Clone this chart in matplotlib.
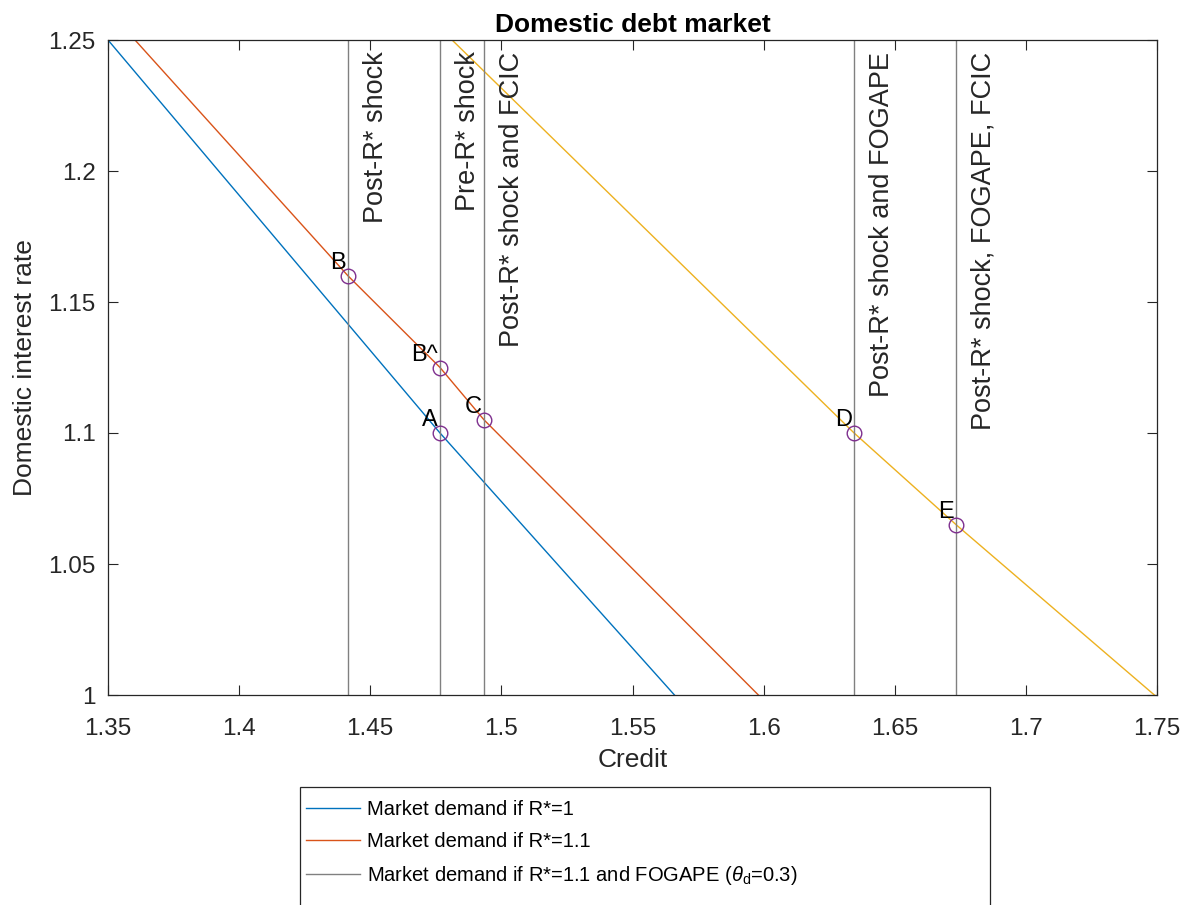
import matplotlib
matplotlib.use("Agg")
import matplotlib.pyplot as plt
from matplotlib.lines import Line2D
from matplotlib.patches import Rectangle

plt.rcParams['font.family'] = ['Liberation Sans', 'DejaVu Sans']
plt.rcParams['mathtext.fontset'] = 'custom'
plt.rcParams['mathtext.rm'] = 'Liberation Sans'
plt.rcParams['mathtext.it'] = 'Liberation Sans:italic'

# ---- data ----
blue_x = [1.35, 1.4766, 1.566]
blue_y = [1.25, 1.10, 1.00]
orange_x = [1.3603, 1.4415, 1.4766, 1.4934, 1.598]
orange_y = [1.25, 1.160, 1.125, 1.105, 1.00]
yellow_x = [1.4812, 1.6345, 1.6734, 1.749]
yellow_y = [1.25, 1.100, 1.065, 1.00]

vline_x = [1.4415, 1.4766, 1.4934, 1.6345, 1.6734]
vline_labels = ["Post-R* shock", "Pre-R* shock", "Post-R* shock and FCIC",
                "Post-R* shock and FOGAPE", "Post-R* shock, FOGAPE, FCIC"]

point_x = [1.4766, 1.4415, 1.4766, 1.4934, 1.6345, 1.6734]
point_y = [1.100, 1.160, 1.125, 1.105, 1.100, 1.065]
point_labels = ["A", "B", "B^", "C", "D", "E"]

legend_labels = ["Market demand if R*=1", "Market demand if R*=1.1",
                 r"Market demand if R*=1.1 and FOGAPE ($\theta_{\rm d}$=0.3)"]

x_ticks = [1.35, 1.4, 1.45, 1.5, 1.55, 1.6, 1.65, 1.7, 1.75]
y_ticks = [1.0, 1.05, 1.1, 1.15, 1.2, 1.25]

# ---- style ----
C_BLUE = '#0072BD'
C_ORANGE = '#D95319'
C_YELLOW = '#EDB120'
C_PURPLE = '#7E2F8E'
C_GRAY = '#808080'
C_AX = '#262626'

W, H = 1187, 905
fig = plt.figure(figsize=(W/100, H/100), dpi=100)
ax = fig.add_axes([108/W, 1-695/H, (1157-108)/W, (695-40)/H])

ax.plot(blue_x, blue_y, color=C_BLUE, lw=1.0)
ax.plot(orange_x, orange_y, color=C_ORANGE, lw=1.0)
ax.plot(yellow_x, yellow_y, color=C_YELLOW, lw=1.0)

for xv, lab in zip(vline_x, vline_labels):
    ax.axvline(xv, color=C_GRAY, lw=1.0)
    ax.annotate(lab, xy=(xv, 1.2456), xytext=(10.5, 0), textcoords='offset points',
                rotation=90, ha='left', va='top', fontsize=19.5, color=C_AX)

ax.plot(point_x, point_y, linestyle='none', marker='o', markersize=10.5,
        markerfacecolor='none', markeredgecolor=C_PURPLE, markeredgewidth=1.0)
for px, py, lab in zip(point_x, point_y, point_labels):
    ax.annotate(lab, xy=(px, py), xytext=(-1.5, 5), textcoords='offset points',
                ha='right', va='baseline', fontsize=17, color='black')

ax.set_xlim(1.35, 1.75)
ax.set_ylim(1.0, 1.25)
ax.set_xticks(x_ticks)
ax.set_xticklabels([f"{v:g}" for v in x_ticks])
ax.set_yticks(y_ticks)
ax.set_yticklabels([f"{v:g}" for v in y_ticks])
ax.tick_params(direction='in', length=7.5, width=0.8, top=True, right=True,
               labelsize=17.5, colors=C_AX)
ax.tick_params(axis='x', pad=16.5)
ax.tick_params(axis='y', pad=9)
for sp in ax.spines.values():
    sp.set_color(C_AX)
    sp.set_linewidth(0.9)

ax.set_xlabel("Credit", fontsize=19, color=C_AX, labelpad=6)
ax.set_ylabel("Domestic interest rate", fontsize=19, color=C_AX, labelpad=8)
ax.set_title("Domestic debt market", fontsize=19, fontweight='bold', color='black', pad=6)

handles = [Line2D([], [], color=C_BLUE, lw=1.0),
           Line2D([], [], color=C_ORANGE, lw=1.0),
           Line2D([], [], color=C_GRAY, lw=1.0)]
leg = fig.legend(handles, legend_labels, loc='upper left',
                 bbox_to_anchor=(293/W, 0, 690/W, 1-787/H), mode='expand',
                 fontsize=14.5, frameon=False, handlelength=2.7, handletextpad=0.3,
                 labelspacing=0.65, borderpad=0.65, borderaxespad=0)
fig.patches.append(Rectangle((300/W, -10/H), 690/W, (H-787+10)/H,
                             transform=fig.transFigure, fill=False,
                             edgecolor=C_AX, linewidth=0.9))

fig.savefig("out.png", dpi=100)
